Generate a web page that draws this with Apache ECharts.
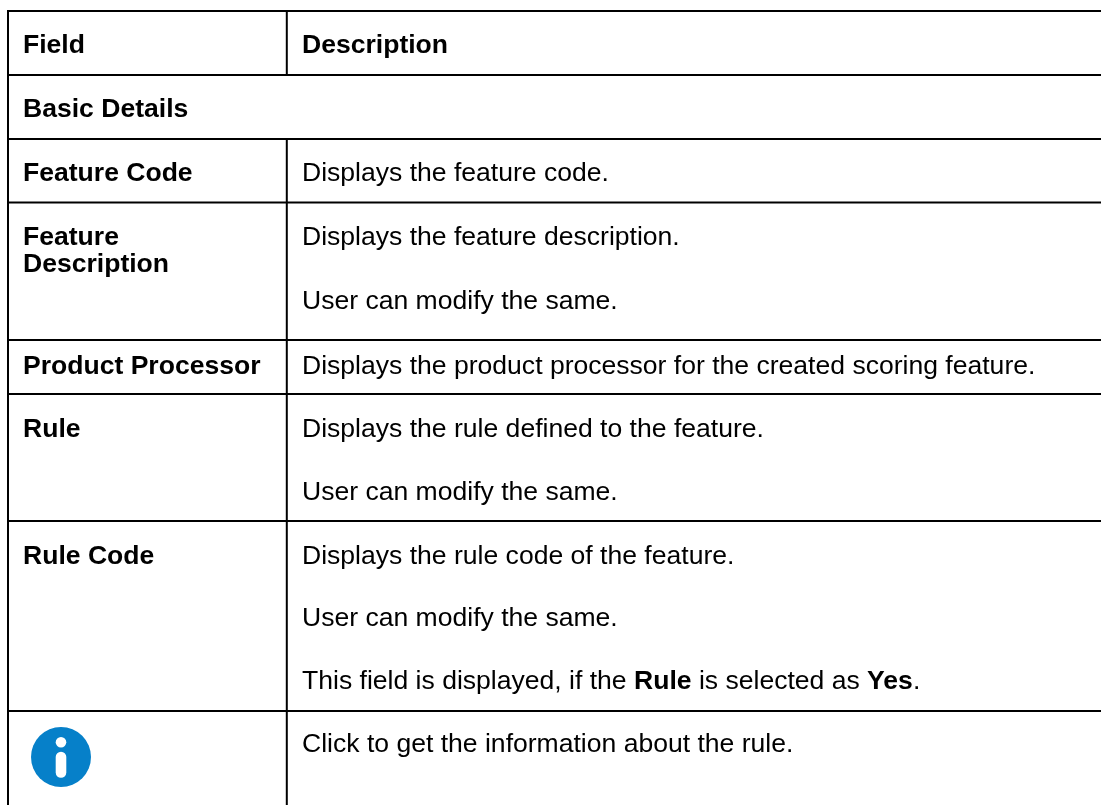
<!DOCTYPE html>
<html>
<head>
<meta charset="utf-8">
<style>html,body{margin:0;padding:0;background:#fff}#c{width:1101px;height:805px}</style>
<script src="https://cdn.jsdelivr.net/npm/echarts@6/dist/echarts.min.js"></script>
</head>
<body>
<div id="c"></div>
<script>
// Table content
const headerCells = ["Field", "Description"];
const sectionTitle = ["Basic Details"];
const fieldLabels = ["Feature Code", "Feature", "Description", "Product Processor", "Rule", "Rule Code"];
const descriptions = [
  "Displays the feature code.",
  "Displays the feature description.",
  "User can modify the same.",
  "Displays the product processor for the created scoring feature.",
  "Displays the rule defined to the feature.",
  "User can modify the same.",
  "Displays the rule code of the feature.",
  "User can modify the same.",
  "This field is displayed, if the {b|Rule} is selected as {b|Yes}.",
  "Click to get the information about the rule."
];
// Table geometry, in the page's own units
const ruleRows = [11, 75, 139, 202.4, 340, 394, 521, 711];
const ruleCols = [8, 286.8];
const fieldRows = [172.5, 236.5, 263, 365, 428, 555];
const descRows = [172.5, 236.5, 300, 365, 428, 491, 555, 617.5, 680.5, 743.5];
const xField = 23, xDesc = 302;
const iconSpot = [61, 757];
const fontSize = 26.55;
const textShift = 1.5;
const ink = "#000";
const face = '"Liberation Sans", Arial, sans-serif';

function textItem(x, y, text, bold) {
  return {kind: "text", x, y: y + textShift, text, bold};
}
const items = [];
ruleRows.forEach((y, i) => {
  items.push({kind: "line", x1: 7, y1: y, x2: 1101, y2: y});
});
items.push({kind: "line", x1: ruleCols[0], y1: 10, x2: ruleCols[0], y2: 805});
[[ruleRows[0], ruleRows[1]], [ruleRows[2], 805]].forEach(s => {
  items.push({kind: "line", x1: ruleCols[1], y1: s[0], x2: ruleCols[1], y2: s[1]});
});
items.push(textItem(xField, 44, headerCells[0], true));
items.push(textItem(xDesc, 44, headerCells[1], true));
items.push(textItem(xField, 108.5, sectionTitle[0], true));
fieldLabels.forEach((t, i) => items.push(textItem(xField, fieldRows[i], t, true)));
descriptions.forEach((t, i) => items.push(textItem(xDesc, descRows[i], t, false)));
items.push({kind: "icon", x: iconSpot[0], y: iconSpot[1]});

function renderItem(params, api) {
  const d = items[params.dataIndex];
  if (d.kind === "line") {
    const a = api.coord([d.x1, d.y1]), b = api.coord([d.x2, d.y2]);
    return {type: "line", shape: {x1: a[0], y1: a[1], x2: b[0], y2: b[1]},
            style: {stroke: "#000", lineWidth: 2}, silent: true};
  }
  if (d.kind === "text") {
    const p = api.coord([d.x, d.y]);
    return {type: "text", x: p[0], y: p[1], silent: true, style: {
      text: d.text, fill: ink,
      font: (d.bold ? "bold " : "") + fontSize + "px " + face,
      verticalAlign: "middle", align: "left",
      rich: {b: {fontWeight: "bold", fontSize: fontSize, fontFamily: face, fill: ink}}
    }};
  }
  const c = api.coord([d.x, d.y]);
  return {type: "group", x: c[0], y: c[1], silent: true, children: [
    {type: "circle", shape: {cx: 0, cy: 0, r: 30}, style: {fill: "#0680C9"}},
    {type: "circle", shape: {cx: 0, cy: -14.7, r: 5.3}, style: {fill: "#fff"}},
    {type: "rect", shape: {x: -5.3, y: -5.3, width: 10.6, height: 26, r: 5.3}, style: {fill: "#fff"}}
  ]};
}

const chart = echarts.init(document.getElementById("c"), null, {renderer: "canvas"});
chart.setOption({
  animation: false,
  backgroundColor: "#fff",
  grid: {left: 0, right: 0, top: 0, bottom: 0},
  xAxis: {type: "value", min: 0, max: 1101, show: false},
  yAxis: {type: "value", min: 0, max: 805, inverse: true, show: false},
  series: [{
    type: "custom",
    coordinateSystem: "cartesian2d",
    clip: false,
    renderItem,
    data: items.map((d, i) => [0, 0, i]),
    encode: {x: 0, y: 1},
    silent: true
  }]
});
</script>
</body>
</html>
